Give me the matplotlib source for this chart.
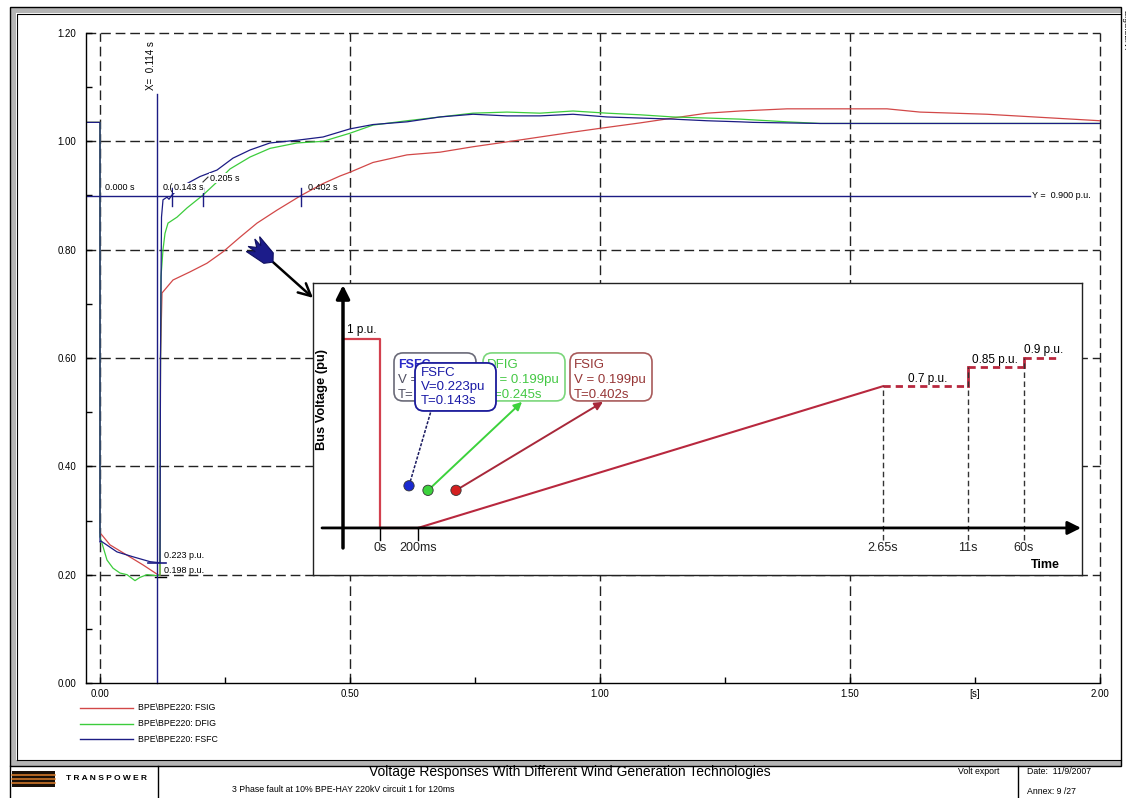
import matplotlib
matplotlib.use("Agg")
import matplotlib.pyplot as plt
from matplotlib.patches import Rectangle, FancyBboxPatch, Polygon
import numpy as np

plt.rcParams['font.family'] = ['Liberation Sans', 'DejaVu Sans']

W, H = 1126, 798

# ---- traces (time in s, voltage in p.u.) ----
t_fsig = [-0.028, 0.0, 0.0, 0.004, 0.02, 0.054, 0.086, 0.114, 0.12,
          0.121, 0.124, 0.146, 0.18, 0.214, 0.246, 0.28, 0.314, 0.354, 0.402,
          0.446, 0.48, 0.5, 0.546, 0.614, 0.68, 0.746, 0.814, 0.88, 0.946,
          1.0, 1.08, 1.146, 1.214, 1.28, 1.374, 1.5, 1.574, 1.64, 1.774,
          1.906, 2.0]
v_fsig = [1.035, 1.035, 0.277, 0.273, 0.255, 0.236, 0.218, 0.201, 0.198,
          0.6, 0.72, 0.744, 0.759, 0.775, 0.796, 0.823, 0.849, 0.873, 0.9,
          0.922, 0.936, 0.943, 0.961, 0.975, 0.98, 0.99, 0.999, 1.008, 1.017,
          1.024, 1.034, 1.043, 1.052, 1.056, 1.06, 1.06, 1.06, 1.054, 1.05,
          1.043, 1.038]

t_dfig = [-0.028, 0.0, 0.0, 0.004, 0.014, 0.026, 0.04, 0.054, 0.07, 0.08,
          0.094, 0.114, 0.12, 0.1205, 0.122, 0.126, 0.13, 0.136, 0.154, 0.174,
          0.205, 0.234, 0.26, 0.3, 0.34, 0.394, 0.446, 0.5, 0.546, 0.614,
          0.68, 0.746, 0.814, 0.88, 0.946, 1.014, 1.08, 1.146, 1.214, 1.28,
          1.374, 1.44, 1.6, 1.8, 2.0]
v_dfig = [1.035, 1.035, 0.27, 0.258, 0.227, 0.212, 0.203, 0.2, 0.189, 0.195,
          0.2, 0.198, 0.199, 0.5, 0.75, 0.8, 0.83, 0.849, 0.86, 0.877,
          0.9, 0.925, 0.949, 0.971, 0.987, 0.997, 1.0, 1.015, 1.03, 1.038,
          1.045, 1.052, 1.054, 1.052, 1.056, 1.052, 1.049, 1.045, 1.043, 1.041,
          1.036, 1.033, 1.033, 1.033, 1.033]

t_fsfc = [-0.028, 0.0, 0.0, 0.002, 0.034, 0.066, 0.1, 0.12, 0.121, 0.123,
          0.126, 0.134, 0.138, 0.143, 0.16, 0.18, 0.2, 0.234, 0.266, 0.3,
          0.34, 0.394, 0.446, 0.5, 0.546, 0.614, 0.68, 0.746, 0.814, 0.88,
          0.946, 1.014, 1.08, 1.146, 1.214, 1.28, 1.306, 1.44, 1.7, 2.0]
v_fsfc = [1.035, 1.035, 0.26, 0.262, 0.242, 0.233, 0.224, 0.222, 0.6, 0.86,
          0.892, 0.897, 0.893, 0.9, 0.915, 0.925, 0.935, 0.947, 0.969, 0.984,
          0.997, 1.002, 1.008, 1.023, 1.031, 1.036, 1.045, 1.05, 1.047, 1.047,
          1.05, 1.045, 1.043, 1.041, 1.038, 1.036, 1.035, 1.033, 1.033, 1.033]

series_names = ['BPE\\BPE220: FSIG', 'BPE\\BPE220: DFIG', 'BPE\\BPE220: FSFC']
series_colors = ['#d24848', '#3ccc3c', '#1c1c84']

# cursor readings
cursor_x = 0.114
cursor_y = 0.900
cross_t = [0.143, 0.205, 0.402]
v_fault_fsfc = 0.223
v_fault_fsig = 0.198

# ---- inset schematic ----
sch_pos = [67, 105, 570, 655, 711]          # schematic positions on the time arrow
sch_labels = ['0s', '200ms', '2.65s', '11s', '60s']
sch_levels = [1.0, 0.0, 0.75, 0.85, 0.9]    # levels as drawn
sch_level_labels = ['1 p.u.', '0.7 p.u.', '0.85 p.u.', '0.9 p.u.']
callout_names = ['FSFC', 'DFIG', 'FSIG']
callout_v = [0.223, 0.199, 0.199]
callout_t = [0.143, 0.245, 0.402]


def frac(l, t, r, b):
    return [l / W, 1 - b / H, (r - l) / W, (b - t) / H]


fig = plt.figure(figsize=(W / 100, H / 100), dpi=100)

# ---- page frame and title block (pixel coordinates) ----
bg = fig.add_axes([0, 0, 1, 1], zorder=0)
bg.set_xlim(0, W)
bg.set_ylim(H, 0)
bg.axis('off')
gray = '#b4b4b4'
bg.add_patch(Rectangle((10, 7), 1111, 6, fc=gray, ec='none'))
bg.add_patch(Rectangle((10, 7), 6, 759, fc=gray, ec='none'))
bg.add_patch(Rectangle((10, 760), 1111, 6, fc=gray, ec='none'))
bg.add_patch(Rectangle((10, 7), 1111, 759, fc='none', ec='black', lw=1))
bg.plot([17, 17, 1121], [760, 14, 14], color='black', lw=0.8)
bg.plot([17, 1121], [760, 760], color='black', lw=0.8)
bg.plot([10, 10], [766, 798], color='black', lw=1)
bg.plot([158, 158], [766, 798], color='black', lw=1)
bg.plot([1018, 1018], [766, 798], color='black', lw=1)
bg.text(1121, 10, 'DIgSILENT', rotation=270, ha='left', va='top', fontsize=6)

# logo
bg.add_patch(Rectangle((12, 771), 43, 16, fc='#1a1008', ec='none'))
for yy in [774.5, 778.5, 782.5]:
    bg.plot([12, 55], [yy, yy], color='#e0802c', lw=1.1)
bg.text(66, 779, 'T R A N S P O W E R', fontsize=6, fontweight='bold', va='center')
bg.text(570, 772, 'Voltage Responses With Different Wind Generation Technologies',
        fontsize=10, ha='center', va='center')
bg.text(232, 790, '3 Phase fault at 10% BPE-HAY 220kV circuit 1 for 120ms',
        fontsize=6.3, va='center')
bg.text(958, 772, 'Volt export', fontsize=6.3, va='center')
bg.text(1027, 772, 'Date:  11/9/2007', fontsize=6.3, va='center')
bg.text(1027, 791, 'Annex: 9 /27', fontsize=6.3, va='center')

# legend
for i, (name, col) in enumerate(zip(series_names, series_colors)):
    yy = 708 + i * 15.5
    bg.plot([80, 133], [yy, yy], color=col, lw=1)
    bg.text(138, yy, name, fontsize=6.3, va='center')

# ---- main axes ----
ax = fig.add_axes(frac(86, 33, 1100, 683), zorder=1)
ax.patch.set_alpha(0)
ax.set_xlim(-0.028, 2.0)
ax.set_ylim(0, 1.2)
for s in ['top', 'right']:
    ax.spines[s].set_visible(False)
for s in ['left', 'bottom']:
    ax.spines[s].set_linewidth(1)

dash = (0, (7, 3.5))
for gx in [0.0, 0.5, 1.0, 1.5, 2.0]:
    ax.axvline(gx, color='#222222', lw=1, ls=dash, zorder=0.5, clip_on=False)
for gy in [0.2, 0.4, 0.6, 0.8, 1.0, 1.2]:
    ax.axhline(gy, color='#222222', lw=1, ls=dash, zorder=0.5, clip_on=False)

ax.set_yticks(np.arange(0, 1.21, 0.2))
ax.set_yticklabels(['%.2f' % v for v in np.arange(0, 1.21, 0.2)])
ax.set_yticks(np.arange(0.1, 1.2, 0.2), minor=True)
ax.set_xticks(np.arange(0, 2.01, 0.25))
ax.set_xticklabels(['0.00', '', '0.50', '', '1.00', '', '1.50', '[s]', '2.00'])
ax.tick_params(axis='both', which='both', direction='in', length=4, width=1,
               labelsize=7)
ax.tick_params(axis='y', pad=7)
ax.tick_params(axis='x', pad=4)

for t, v, c in zip([t_fsig, t_dfig, t_fsfc], [v_fsig, v_dfig, v_fsfc], series_colors):
    ax.plot(t, v, color=c, lw=0.9, zorder=2)

navy = '#1c1c84'
white_box = dict(fc='white', ec='none', pad=0.4)
# horizontal cursor
ax.plot([-0.028, 1.86], [cursor_y, cursor_y], color=navy, lw=1, zorder=2.5)
ax.text(1.864, cursor_y, 'Y =  0.900 p.u.', fontsize=6.5, va='center', ha='left')
ax.text(0.01, cursor_y + 0.006, '0.000 s', fontsize=6.5, va='bottom')
for ct in cross_t:
    ax.plot([ct, ct], [cursor_y - 0.02, cursor_y + 0.013], color=navy, lw=1, zorder=2.5)
ax.text(0.126, cursor_y + 0.006, '0.(', fontsize=6.5, va='bottom', zorder=3)
ax.text(0.148, cursor_y + 0.006, '0.143 s', fontsize=6.5, va='bottom', zorder=3.1,
        bbox=white_box)
ax.plot([0.206, 0.216], [0.925, 0.934], color='#333333', lw=0.8, zorder=3.2)
ax.text(0.22, 0.932, '0.205 s', fontsize=6.5, va='center', zorder=3, bbox=white_box)
ax.text(0.416, cursor_y + 0.006, '0.402 s', fontsize=6.5, va='bottom', zorder=3)

# vertical cursor
ax.plot([cursor_x, cursor_x], [0, 1.088], color=navy, lw=1, zorder=2.5, clip_on=False)
ax.text(cursor_x - 0.012, 1.094, 'X=  0.114 s', rotation=90, fontsize=7,
        ha='center', va='bottom')

# fault-end readings
ax.plot([0.096, 0.132], [v_fault_fsfc - 0.001, v_fault_fsfc - 0.001], color=navy, lw=1.2)
ax.plot([0.11, 0.132], [v_fault_fsig - 0.002, v_fault_fsig - 0.002], color='black', lw=1)
ax.text(0.128, 0.236, '%.3f p.u.' % v_fault_fsfc, fontsize=6.5, va='center')
ax.text(0.128, 0.208, '%.3f p.u.' % v_fault_fsig, fontsize=6.5, va='center')

# dart pointing to the inset
tail = np.array([0.346, 0.777])
tip = np.array([0.426, 0.711])
ax.annotate('', xy=tip, xytext=tail,
            arrowprops=dict(arrowstyle='->', lw=1.8, color='black',
                            mutation_scale=22, shrinkA=0, shrinkB=0),
            zorder=4, annotation_clip=False)
back = np.array([-40.0, 36.0])          # pixel direction tip -> tail (y up)
back = back / np.hypot(*back)
perp = np.array([-back[1], back[0]])
scale = np.array([1 / 500, 1 / 541.67])
shape = [(0, 0), (6, 7), (27, 10), (20, 4), (29, 5), (22, 0),
         (29, -5), (20, -4), (27, -10), (6, -7)]
fletch = [tail + (u * back + w * perp) * scale for u, w in shape]
ax.add_patch(Polygon(fletch, closed=True, fc='#1c1c8a', ec='#101060', lw=0.8, zorder=4))

# ---- inset schematic ----
ins = fig.add_axes(frac(313, 283, 1082, 575), zorder=3)
ins.set_xlim(0, 769)
ins.set_ylim(-0.249, 1.296)
ins.set_xticks([])
ins.set_yticks([])
for s in ins.spines.values():
    s.set_linewidth(1)
    s.set_color('#222222')

ins.annotate('', xy=(30, 1.285), xytext=(30, -0.106),
             arrowprops=dict(arrowstyle='-|>', lw=2.5, color='black',
                             mutation_scale=20, shrinkA=0, shrinkB=0))
ins.annotate('', xy=(768, 0), xytext=(9, 0),
             arrowprops=dict(arrowstyle='-|>', lw=2, color='black',
                             mutation_scale=20, shrinkA=0, shrinkB=0))
ins.text(9, 0.677, 'Bus Voltage (pu)', rotation=90, fontsize=9.3,
         fontweight='bold', ha='center', va='center')
ins.text(732, -0.196, 'Time', fontsize=9, fontweight='bold', ha='center', va='center')

red1 = '#d2404e'
red2 = '#b8283e'
ins.plot([30, sch_pos[0], sch_pos[0], sch_pos[1]],
         [sch_levels[0], sch_levels[0], sch_levels[1], sch_levels[1]],
         color=red1, lw=1.6)
ins.plot([sch_pos[1], sch_pos[2]], [sch_levels[1], sch_levels[2]], color=red2, lw=1.5)
rdash = (0, (2.6, 1.8))
ins.plot([sch_pos[2], sch_pos[3]], [sch_levels[2]] * 2, color=red2, lw=2, ls=rdash)
ins.plot([sch_pos[3], sch_pos[3]], [sch_levels[2], sch_levels[3]], color=red2, lw=2)
ins.plot([sch_pos[3], sch_pos[4]], [sch_levels[3]] * 2, color=red2, lw=2, ls=rdash)
ins.plot([sch_pos[4], sch_pos[4]], [sch_levels[3], sch_levels[4]], color=red2, lw=2)
ins.plot([sch_pos[4], 746], [sch_levels[4]] * 2, color=red2, lw=2, ls=rdash)

for xp, lv in zip(sch_pos[2:], sch_levels[2:]):
    ins.plot([xp, xp], [-0.065, lv], color='#333333', lw=1, ls=(0, (4, 2.5)))
for xp in sch_pos[:2]:
    ins.plot([xp, xp], [0, -0.065], color='black', lw=1)
for xp, lab in zip(sch_pos, sch_labels):
    ins.text(xp, -0.108, lab, fontsize=9, ha='center', va='center', color='#222222')

ins.text(49, 1.045, sch_level_labels[0], fontsize=8.5, ha='center', va='center')
ins.text(615, 0.79, sch_level_labels[1], fontsize=8.5, ha='center', va='center')
ins.text(682, 0.89, sch_level_labels[2], fontsize=8.5, ha='center', va='center')
ins.text(731, 0.94, sch_level_labels[3], fontsize=8.5, ha='center', va='center')

# callout boxes
asp = 1 / 189.0
box_y0, box_y1 = 0.672, 0.926
boxes = [(81, '#6a6a78'), (170, '#7ad67a'), (257, '#a85a5a')]
for (bx, ec) in boxes:
    ins.add_patch(FancyBboxPatch((bx, box_y0), 82, box_y1 - box_y0,
                                 boxstyle='round,pad=0,rounding_size=9',
                                 mutation_aspect=asp, fc='white', ec=ec, lw=1.2,
                                 zorder=3))
# back FSFC box text
ins.text(85, 0.862, 'FSFC', fontsize=9, fontweight='bold', color='#2828c8', va='center', zorder=3.2)
ins.text(85, 0.783, 'V =', fontsize=9.5, color='#505062', va='center', zorder=3.2)
ins.text(85, 0.704, 'T=', fontsize=9.5, color='#505062', va='center', zorder=3.2)
txt_cols = ['#44c844', '#963636']
for i, (bx, col) in enumerate(zip([174, 261], txt_cols)):
    k = i + 1
    ins.text(bx, 0.862, callout_names[k], fontsize=9.5, color=col, va='center', zorder=3.2)
    ins.text(bx, 0.783, 'V = %.3fpu' % callout_v[k], fontsize=9.5, color=col, va='center', zorder=3.2)
    ins.text(bx, 0.704, 'T=%.3fs' % callout_t[k], fontsize=9.5, color=col, va='center', zorder=3.2)

# front FSFC box
ins.add_patch(FancyBboxPatch((102, 0.619), 81, 0.254,
                             boxstyle='round,pad=0,rounding_size=9',
                             mutation_aspect=asp, fc='white', ec='#1a1a9a', lw=1.3,
                             zorder=4))
front_col = '#1a1aa6'
ins.text(108, 0.820, callout_names[0], fontsize=9.5, color=front_col, va='center', zorder=4.2)
ins.text(108, 0.746, 'V=%.3fpu' % callout_v[0], fontsize=9.5, color=front_col, va='center', zorder=4.2)
ins.text(108, 0.672, 'T=%.3fs' % callout_t[0], fontsize=9.5, color=front_col, va='center', zorder=4.2)

# dots and pointers
dot_x = [96, 115, 143]
dot_cols = ['#1a2ad0', '#3cd23c', '#d42020']
ins.plot([dot_x[0], 118], [callout_v[0], 0.619], color='#1a1a60', lw=1.1,
         ls=(0, (2, 1)), zorder=3.5)
ins.annotate('', xy=(209, 0.667), xytext=(dot_x[1], callout_v[1]),
             arrowprops=dict(arrowstyle='-|>', lw=1.4, color='#3cd23c',
                             mutation_scale=12, shrinkA=0, shrinkB=0), zorder=3.5)
ins.annotate('', xy=(290, 0.667), xytext=(dot_x[2], callout_v[2]),
             arrowprops=dict(arrowstyle='-|>', lw=1.4, color='#a8283a',
                             mutation_scale=12, shrinkA=0, shrinkB=0), zorder=3.5)
ins.scatter(dot_x, callout_v, s=55, c=dot_cols, edgecolors='#333333',
            linewidths=0.6, zorder=5)

fig.savefig('out.png', dpi=100)
